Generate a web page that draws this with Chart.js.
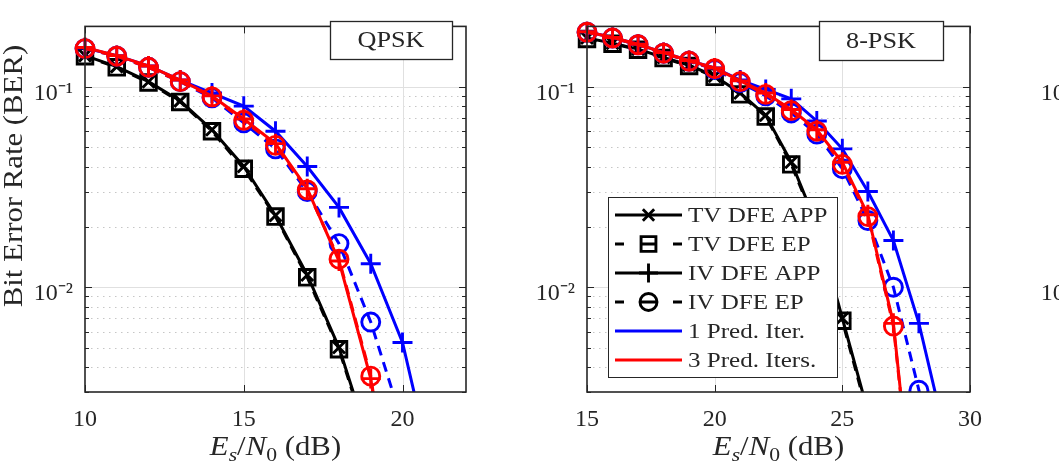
<!DOCTYPE html>
<html>
<head>
<meta charset="utf-8">
<script src="https://cdn.jsdelivr.net/npm/chart.js@4.4.0/dist/chart.umd.min.js"></script>
<style>
  html, body { margin: 0; padding: 0; background: #fff; overflow: hidden; }
  #wrap { position: relative; width: 1059px; height: 467px; overflow: hidden; }
  canvas { position: absolute; top: 0; }
</style>
</head>
<body>
<div id="wrap">
  <canvas id="qpskChart" width="500" height="467" style="left:0;width:500px;height:467px"></canvas>
  <canvas id="pskChart" width="500" height="467" style="left:500px;width:500px;height:467px"></canvas>
  <canvas id="nextChart" width="400" height="467" style="left:1000px;width:400px;height:467px"></canvas>
</div>
<script>
const FONT = 'Liberation Serif';
const INK = '#262626';
const BLUE = '#0000ff';
const RED = '#ff0000';
const BLACK = '#000000';

// QPSK, Es/N0 in dB
const qpskSnr    = [10, 11, 12, 13, 14, 15, 16, 17, 18, 19, 20, 21];
const qpskTvApp  = [0.143, 0.126, 0.106, 0.085, 0.061, 0.040, 0.0228, 0.0115, 0.0050, 0.0016, null, null];
const qpskTvEp   = [0.142, 0.125, 0.105, 0.084, 0.060, 0.039, 0.0225, 0.0112, 0.0049, 0.00155, null, null];
const qpskIvApp1 = [0.156, 0.143, 0.127, 0.108, 0.093, 0.080, 0.060, 0.040, 0.025, 0.0131, 0.0053, 0.0011];
const qpskIvEp1  = [0.155, 0.142, 0.125, 0.106, 0.088, 0.066, 0.049, 0.030, 0.0165, 0.0067, 0.0021, null];
const qpskIvApp3 = [0.157, 0.143, 0.127, 0.108, 0.090, 0.069, 0.052, 0.031, 0.0135, 0.0035, 0.0003, null];
const qpskIvEp3  = [0.155, 0.142, 0.125, 0.106, 0.089, 0.068, 0.051, 0.0306, 0.0138, 0.0036, 0.0003, null];

// 8-PSK
const pskSnr    = [15, 16, 17, 18, 19, 20, 21, 22, 23, 24, 25, 26, 27, 28, 29];
const pskTvApp  = [0.175, 0.165, 0.154, 0.140, 0.128, 0.113, 0.093, 0.072, 0.042, 0.0205, 0.0070, 0.0024, null, null, null];
const pskTvEp   = [0.173, 0.164, 0.153, 0.139, 0.127, 0.112, 0.0916, 0.071, 0.041, 0.020, 0.0068, 0.0023, null, null, null];
const pskIvApp1 = [0.188, 0.176, 0.163, 0.148, 0.135, 0.124, 0.108, 0.097, 0.087, 0.0675, 0.049, 0.030, 0.0171, 0.0066, 0.0019];
const pskIvEp1  = [0.187, 0.175, 0.162, 0.147, 0.134, 0.122, 0.105, 0.090, 0.074, 0.058, 0.039, 0.0215, 0.0100, 0.00306, 0.0009];
const pskIvApp3 = [0.188, 0.176, 0.163, 0.148, 0.135, 0.124, 0.107, 0.093, 0.077, 0.061, 0.042, 0.023, 0.0066, 0.0004, null];
const pskIvEp3  = [0.187, 0.175, 0.162, 0.147, 0.134, 0.123, 0.106, 0.0916, 0.076, 0.060, 0.041, 0.0225, 0.0064, 0.0004, null];

// axes
const qpskXTicks = [10, 15, 20];
const pskXTicks = [15, 20, 25, 30];
const berMajor = [0.01, 0.1];
const berMinor = [0.003, 0.004, 0.005, 0.006, 0.007, 0.008, 0.009,
                  0.02, 0.03, 0.04, 0.05, 0.06, 0.07, 0.08, 0.09, 0.2];

const legendLabels  = ['TV DFE APP', 'TV DFE EP', 'IV DFE APP', 'IV DFE EP', '1 Pred. Iter.', '3 Pred. Iters.'];
const legendColors  = [BLACK, BLACK, BLACK, BLACK, BLUE, RED];
const legendDashed  = [false, true, false, true, false, false];
const legendMarkers = ['crossRot', 'rect', 'cross', 'circle', null, null];

const markerSize = { crossRot: 8.5, rect: 11, cross: 10, circle: 9 };
const SUP = { '-': '\u207B', '0': '\u2070', '1': '\u00B9', '2': '\u00B2', '3': '\u00B3' };

function pts(snr, vals) {
    return snr.map((x, i) => ({ x: x, y: vals[i] })).filter(p => p.y != null);
}

function series(label, snr, vals, color, dashed, marker, order) {
    const r = markerSize[marker];
    return {
        label: label,
        data: pts(snr, vals),
        order: order,
        borderColor: color,
        backgroundColor: 'rgba(0,0,0,0)',
        borderWidth: 3,
        borderDash: dashed ? [10, 7] : [],
        pointStyle: marker,
        pointRadius: r,
        pointHoverRadius: r,
        pointBorderWidth: 2.9,
        pointBorderColor: color,
        pointBackgroundColor: 'rgba(0,0,0,0)',
        tension: 0,
        clip: { left: 14, top: 14, right: 14, bottom: 0 }
    };
}

// text with a slight horizontal stretch (the original uses wider LaTeX glyphs)
const STRETCH = 1.14;
function wideText(ctx, text, x, y, align) {
    const w = ctx.measureText(text).width * STRETCH;
    const x0 = align === 'center' ? x - w / 2 : x;
    ctx.save();
    ctx.translate(x0, y);
    ctx.scale(STRETCH, 1);
    ctx.textAlign = 'left';
    ctx.fillText(text, 0, 0);
    ctx.restore();
}

function drawXTitle(ctx, cx, baseline) {
    const big = 27, small = 19;
    const parts = [
        { t: 'E', f: 'italic ' + big + 'px "' + FONT + '"', dy: 0 },
        { t: 's', f: 'italic ' + small + 'px "' + FONT + '"', dy: 6 },
        { t: '/', f: big + 'px "' + FONT + '"', dy: 0 },
        { t: 'N', f: 'italic ' + big + 'px "' + FONT + '"', dy: 0 },
        { t: '0', f: small + 'px "' + FONT + '"', dy: 6 },
        { t: ' (dB)', f: big + 'px "' + FONT + '"', dy: 0 }
    ];
    let total = 0;
    parts.forEach(p => { ctx.font = p.f; p.w = ctx.measureText(p.t).width; total += p.w; });
    ctx.save();
    ctx.translate(cx - total * STRETCH / 2, baseline);
    ctx.scale(STRETCH, 1);
    ctx.fillStyle = INK;
    ctx.textBaseline = 'alphabetic';
    let x = 0;
    parts.forEach(p => { ctx.font = p.f; ctx.fillText(p.t, x, p.dy); x += p.w; });
    ctx.restore();
}

function drawLegend(ctx, L) {
    ctx.save();
    ctx.fillStyle = '#fff';
    ctx.fillRect(L.x, L.y, L.w, L.h);
    ctx.strokeStyle = INK;
    ctx.lineWidth = 1;
    ctx.strokeRect(L.x + 0.5, L.y + 0.5, L.w, L.h);
    legendLabels.forEach((label, i) => {
        const cy = L.y + 18 + i * 29;
        const x0 = L.x + 7, x1 = L.x + 74, xm = (x0 + x1) / 2;
        ctx.strokeStyle = legendColors[i];
        ctx.lineWidth = 3;
        ctx.setLineDash([]);
        ctx.beginPath();
        if (legendDashed[i]) {
            [[x0, x0 + 9], [xm - 8, xm + 8], [x1 - 9, x1]].forEach(s => { ctx.moveTo(s[0], cy); ctx.lineTo(s[1], cy); });
        } else {
            ctx.moveTo(x0, cy); ctx.lineTo(x1, cy);
        }
        ctx.stroke();
        if (legendMarkers[i]) {
            ctx.fillStyle = 'rgba(0,0,0,0)';
            ctx.lineWidth = 2.9;
            Chart.helpers.drawPoint(ctx, { pointStyle: legendMarkers[i], radius: markerSize[legendMarkers[i]] - 0.5, borderWidth: 2.9, rotation: 0 }, xm, cy);
        }
        ctx.fillStyle = INK;
        ctx.font = '22px "' + FONT + '"';
        ctx.textBaseline = 'middle';
        wideText(ctx, label, L.x + 80, cy + 1, 'left');
    });
    ctx.restore();
}

function makeLook(cfg) {
    return {
        id: 'matlabLook',
        beforeDatasetsDraw(chart) {
            const { ctx, chartArea: a, scales: { x, y } } = chart;
            ctx.save();
            ctx.lineWidth = 1;
            ctx.strokeStyle = '#c6c6c6';
            ctx.setLineDash([1.5, 4.5]);
            berMinor.forEach(v => {
                const py = Math.round(y.getPixelForValue(v)) + 0.5;
                if (py > a.top + 2 && py < a.bottom - 2) {
                    ctx.beginPath(); ctx.moveTo(a.left, py); ctx.lineTo(a.right, py); ctx.stroke();
                }
            });
            ctx.setLineDash([]);
            ctx.strokeStyle = '#e0e0e0';
            berMajor.forEach(v => {
                const py = Math.round(y.getPixelForValue(v)) + 0.5;
                ctx.beginPath(); ctx.moveTo(a.left, py); ctx.lineTo(a.right, py); ctx.stroke();
            });
            cfg.xTicks.forEach(v => {
                const px = Math.round(x.getPixelForValue(v)) + 0.5;
                if (px > a.left + 2 && px < a.right - 2) {
                    ctx.beginPath(); ctx.moveTo(px, a.top); ctx.lineTo(px, a.bottom); ctx.stroke();
                }
            });
            ctx.restore();
        },
        afterDatasetsDraw(chart) {
            const { ctx, chartArea: a, scales: { x, y } } = chart;
            ctx.save();
            ctx.strokeStyle = INK;
            ctx.lineWidth = 1;
            const tick = (x0, y0, x1, y1) => { ctx.beginPath(); ctx.moveTo(x0, y0); ctx.lineTo(x1, y1); ctx.stroke(); };
            berMajor.forEach(v => {
                const py = Math.round(y.getPixelForValue(v)) + 0.5;
                tick(a.left, py, a.left + 7, py); tick(a.right - 7, py, a.right, py);
            });
            berMinor.forEach(v => {
                const py = Math.round(y.getPixelForValue(v)) + 0.5;
                tick(a.left, py, a.left + 4, py); tick(a.right - 4, py, a.right, py);
            });
            cfg.xTicks.forEach(v => {
                const px = Math.round(x.getPixelForValue(v)) + 0.5;
                tick(px, a.bottom, px, a.bottom - 7); tick(px, a.top, px, a.top + 7);
            });
            ctx.lineWidth = 1.6;
            ctx.strokeRect(a.left, a.top, a.right - a.left, a.bottom - a.top);

            if (cfg.tag) {
                const t = cfg.tag;
                ctx.fillStyle = '#fff';
                ctx.fillRect(t.x, t.y, t.w, t.h);
                ctx.lineWidth = 1.3;
                ctx.strokeRect(t.x + 0.5, t.y + 0.5, t.w, t.h);
                ctx.fillStyle = INK;
                ctx.font = '23px "' + FONT + '"';
                ctx.textBaseline = 'middle';
                wideText(ctx, t.text, t.x + t.w / 2, t.y + t.h / 2 + 1, 'center');
            }
            if (cfg.legend) drawLegend(ctx, cfg.legend);
            if (cfg.xTitle) drawXTitle(ctx, (a.left + a.right) / 2, 455);
            if (cfg.yTitle) {
                ctx.save();
                ctx.translate(22, 176);
                ctx.rotate(-Math.PI / 2);
                ctx.fillStyle = INK;
                ctx.font = '27px "' + FONT + '"';
                ctx.textBaseline = 'alphabetic';
                wideText(ctx, 'Bit Error Rate (BER)', 0, 0, 'center');
                ctx.restore();
            }
            ctx.restore();
        }
    };
}

function buildChart(id, cfg) {
    return new Chart(document.getElementById(id), {
        type: 'line',
        data: { datasets: cfg.datasets },
        options: {
            responsive: false,
            animation: false,
            events: [],
            layout: { padding: { left: 0, top: 9, right: cfg.padRight, bottom: 0 } },
            scales: {
                x: {
                    type: 'linear',
                    min: cfg.xMin,
                    max: cfg.xMax,
                    afterBuildTicks: s => { s.ticks = cfg.xTicks.map(v => ({ value: v })); },
                    afterFit: s => { s.height = 75; },
                    grid: { display: false, drawTicks: false },
                    border: { display: false },
                    ticks: {
                        color: INK, font: { family: FONT, size: 24 }, padding: 13,
                        maxRotation: 0, autoSkip: false, callback: v => String(v)
                    }
                },
                y: {
                    type: 'logarithmic',
                    min: 0.003,
                    max: 0.2,
                    afterBuildTicks: s => { s.ticks = berMajor.map(v => ({ value: v, major: true })); },
                    afterFit: s => { s.width = cfg.yWidth; },
                    grid: { display: false, drawTicks: false },
                    border: { display: false },
                    ticks: {
                        color: INK, font: { family: FONT, size: 24 }, padding: 12, labelOffset: 7,
                        autoSkip: false,
                        callback: v => '10' + String(Math.round(Math.log10(v))).split('').map(c => SUP[c]).join('')
                    }
                }
            },
            plugins: { legend: { display: false }, tooltip: { enabled: false } }
        },
        plugins: [makeLook(cfg)]
    });
}

buildChart('qpskChart', {
    xMin: 10, xMax: 22, xTicks: qpskXTicks, yWidth: 85, padRight: 34,
    xTitle: true, yTitle: true,
    tag: { text: 'QPSK', x: 330, y: 21, w: 122, h: 38 },
    datasets: [
        series('TV DFE APP', qpskSnr, qpskTvApp, BLACK, false, 'crossRot', 3),
        series('TV DFE EP', qpskSnr, qpskTvEp, BLACK, true, 'rect', 3),
        series('IV DFE APP, 1 Pred. Iter.', qpskSnr, qpskIvApp1, BLUE, false, 'cross', 2),
        series('IV DFE EP, 1 Pred. Iter.', qpskSnr, qpskIvEp1, BLUE, true, 'circle', 2),
        series('IV DFE APP, 3 Pred. Iters.', qpskSnr, qpskIvApp3, RED, false, 'cross', 1),
        series('IV DFE EP, 3 Pred. Iters.', qpskSnr, qpskIvEp3, RED, true, 'circle', 1)
    ]
});

buildChart('pskChart', {
    xMin: 15, xMax: 30, xTicks: pskXTicks, yWidth: 87, padRight: 30,
    xTitle: true, yTitle: false,
    tag: { text: '8-PSK', x: 319, y: 21, w: 124, h: 39 },
    legend: { x: 108, y: 197, w: 229, h: 180 },
    datasets: [
        series('TV DFE APP', pskSnr, pskTvApp, BLACK, false, 'crossRot', 3),
        series('TV DFE EP', pskSnr, pskTvEp, BLACK, true, 'rect', 3),
        series('IV DFE APP, 1 Pred. Iter.', pskSnr, pskIvApp1, BLUE, false, 'cross', 2),
        series('IV DFE EP, 1 Pred. Iter.', pskSnr, pskIvEp1, BLUE, true, 'circle', 2),
        series('IV DFE APP, 3 Pred. Iters.', pskSnr, pskIvApp3, RED, false, 'cross', 1),
        series('IV DFE EP, 3 Pred. Iters.', pskSnr, pskIvEp3, RED, true, 'circle', 1)
    ]
});

// third panel, only its axis labels reach into the frame
buildChart('nextChart', {
    xMin: 0, xMax: 1, xTicks: [], yWidth: 92, padRight: 0,
    xTitle: false, yTitle: false,
    datasets: []
});
</script>
</body>
</html>
